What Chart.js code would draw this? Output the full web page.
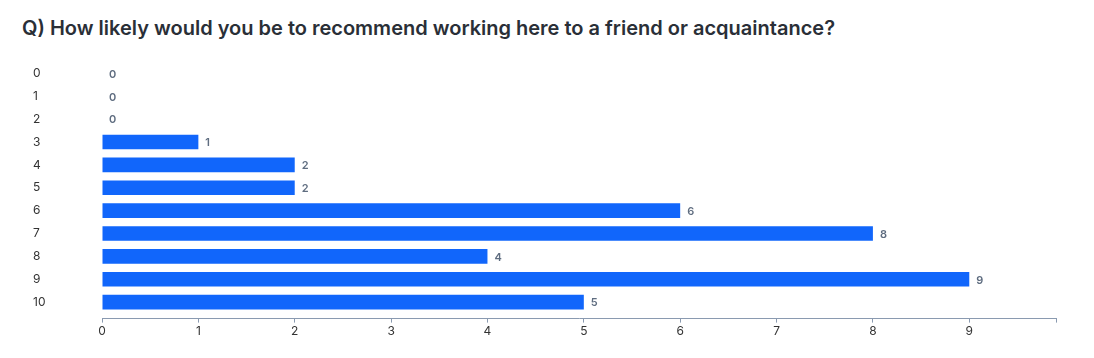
<!DOCTYPE html>
<html>
<head>
<meta charset="utf-8">
<script src="https://cdn.jsdelivr.net/npm/chart.js@4.4.1/dist/chart.umd.min.js"></script>
<style>
  html, body { margin: 0; padding: 0; background: #ffffff; }
  body { width: 1094px; height: 358px; position: relative; overflow: hidden; font-family: Inter, "Noto Sans", sans-serif; }
  #title { position: absolute; left: 22px; top: 15px; font-size: 20px; font-weight: 600; color: #2a2f37; line-height: 26px; white-space: nowrap; }
  #wrap { position: absolute; left: 0; top: 0; width: 1094px; height: 358px; }
</style>
</head>
<body>
<div id="title">Q) How likely would you be to recommend working here to a friend or acquaintance?</div>
<div id="wrap"><canvas id="c"></canvas></div>
<script>
const categories = ["0", "1", "2", "3", "4", "5", "6", "7", "8", "9", "10"];
const counts = [0, 0, 0, 1, 2, 2, 6, 8, 4, 9, 5];
const xTickValues = [0, 1, 2, 3, 4, 5, 6, 7, 8, 9];

const AXIS_GAP = 4;

const valueLabels = {
  id: 'valueLabels',
  afterDatasetsDraw(chart) {
    const ctx = chart.ctx;
    const meta = chart.getDatasetMeta(0);
    ctx.save();
    ctx.font = '600 11px Inter, "Noto Sans", sans-serif';
    ctx.fillStyle = '#5f6d80';
    ctx.textAlign = 'left';
    ctx.textBaseline = 'middle';
    meta.data.forEach((bar, i) => {
      ctx.fillText(String(counts[i]), bar.x + 7, bar.y + 1);
    });
    ctx.restore();
  }
};

const offsetAxisLine = {
  id: 'offsetAxisLine',
  afterDraw(chart) {
    const sx = chart.scales.x;
    const ctx = chart.ctx;
    const y = Math.round(sx.top + AXIS_GAP) + 0.5;
    ctx.save();
    ctx.strokeStyle = '#8a9ab0';
    ctx.lineWidth = 1;
    ctx.beginPath();
    ctx.moveTo(sx.left, y);
    ctx.lineTo(sx.right + 0.5, y);
    ctx.stroke();
    ctx.restore();
  }
};

new Chart(document.getElementById('c'), {
  type: 'bar',
  data: {
    labels: categories,
    datasets: [{
      data: counts,
      backgroundColor: '#1166fb',
      borderWidth: 0,
      categoryPercentage: 0.8,
      barPercentage: 0.8
    }]
  },
  options: {
    indexAxis: 'y',
    responsive: true,
    maintainAspectRatio: false,
    animation: false,
    layout: { padding: { left: 33, right: 38, top: 62, bottom: 17 } },
    plugins: {
      legend: { display: false },
      tooltip: { enabled: false }
    },
    scales: {
      y: {
        grid: { display: false },
        border: { display: false },
        ticks: {
          crossAlign: 'far',
          color: '#333333',
          font: { family: 'Inter, "Noto Sans", sans-serif', size: 12 },
          padding: 0
        },
        afterFit(scale) { scale.width = 69; }
      },
      x: {
        min: 0,
        max: 9.9,
        grid: {
          drawOnChartArea: false, drawTicks: true, tickLength: 9,
          tickBorderDash: [0, 4, 5, 100],
          color: '#8a9ab0', lineWidth: 1
        },
        border: { display: false },
        afterBuildTicks(scale) {
          scale.ticks = xTickValues.map(v => ({ value: v })).concat([{ value: 9.9 }]);
        },
        ticks: {
          color: '#333333',
          font: { family: 'Inter, "Noto Sans", sans-serif', size: 12 },
          padding: 2,
          maxRotation: 0,
          autoSkip: false,
          callback(value) { return xTickValues.includes(value) ? String(value) : ''; }
        }
      }
    }
  },
  plugins: [valueLabels, offsetAxisLine]
});
</script>
</body>
</html>
